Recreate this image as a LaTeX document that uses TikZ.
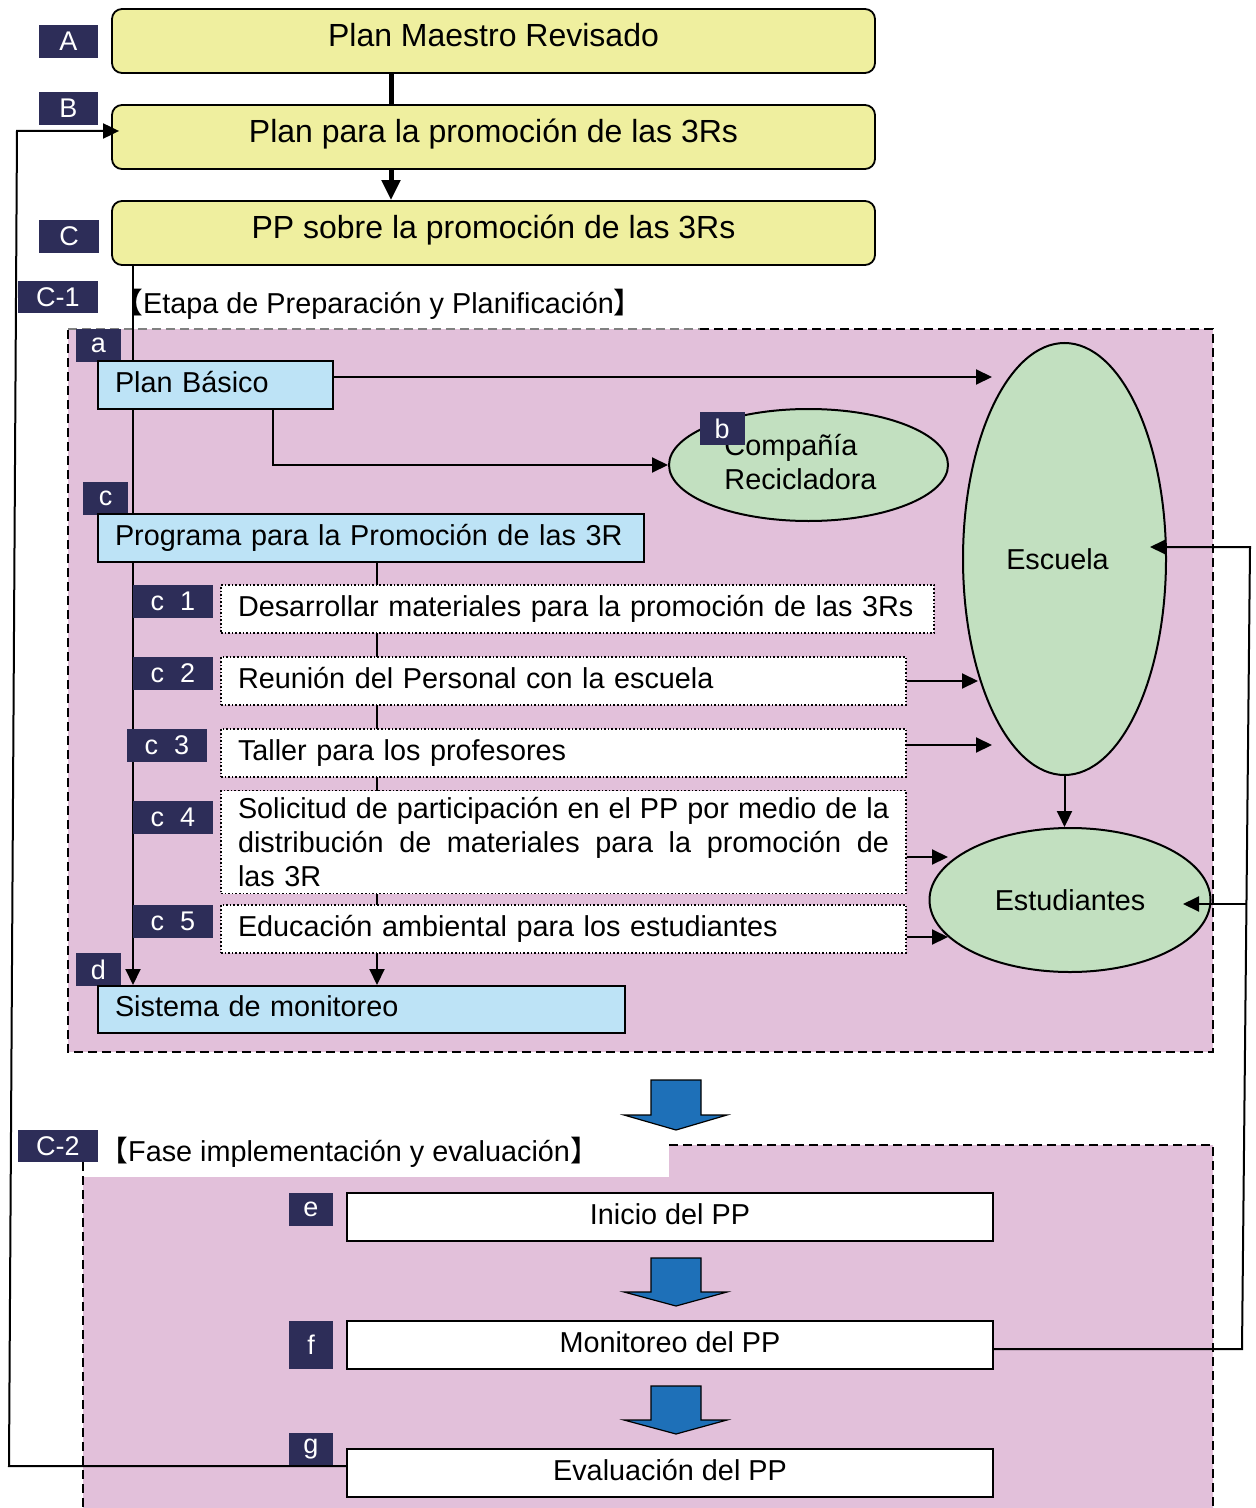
\documentclass[tikz,border=0pt]{standalone}
\usepackage{fontspec}
\setmainfont{Liberation Sans}
\newfontfamily\cjk{Noto Sans CJK SC}
\usetikzlibrary{shapes.geometric,arrows.meta,calc}
\definecolor{ylw}{RGB}{239,239,159}
\definecolor{navy}{RGB}{45,45,88}
\definecolor{lblue}{RGB}{189,227,246}
\definecolor{pnk}{RGB}{226,192,218}
\definecolor{grn}{RGB}{194,224,192}
\definecolor{barr}{RGB}{30,112,184}
\newcommand\myBig{\fontsize{16}{19}\selectfont}
\newcommand\myTxt{\fontsize{14.4}{17}\selectfont}
\newcommand\myLbl{\fontsize{13.5}{16}\selectfont}
\newcommand\jline[1]{\makebox[325.5pt][s]{\spaceskip=.278em plus 1em\relax #1}}
\pgfdeclarelayer{bg}
\pgfdeclarelayer{lines}
\pgfsetlayers{bg,lines,main}
\begin{document}
\begin{tikzpicture}[x=0.5pt,y=-0.5pt,
  lbl/.style={fill=navy,text=white,inner sep=0pt,font=\myLbl,minimum width=22.5pt,minimum height=16.5pt},
  wlbl/.style={lbl,minimum width=40pt},
  ybox/.style={draw,line width=0.9pt,fill=ylw,rounded corners=5pt,minimum width=381.5pt,minimum height=32pt,inner sep=0pt,font=\myBig,text height=12pt,text depth=6.5pt},
  bbox/.style={draw,line width=1pt,fill=lblue,minimum height=24pt,inner xsep=8.5pt,inner ysep=0pt,align=left,font=\myTxt,text height=11pt,text depth=4pt},
  dboxbase/.style={draw,densely dotted,line width=0.8pt,fill=white,inner xsep=8.5pt,inner ysep=0pt,align=left,font=\myTxt,minimum height=24pt},
  dbox/.style={dboxbase,text height=11pt,text depth=4pt},
  wbox/.style={draw,line width=1pt,fill=white,minimum width=323pt,minimum height=24pt,inner sep=0pt,font=\myTxt,text height=11pt,text depth=4pt},
  ell/.style={ellipse,draw,line width=1pt,fill=grn,inner sep=0pt,font=\myTxt},
  ttl/.style={anchor=west,inner sep=0pt,font=\myTxt},
  arr/.style={line width=1pt,-{Triangle[length=8pt,width=7.5pt]}},
  dsh/.style={dash pattern=on 4.5pt off 2.5pt,line width=0.8pt},
  blk/.style={fill=barr,draw=black,line width=0.6pt,line join=miter}]
\useasboundingbox (0,0) rectangle (1256,1508);

% backgrounds
\begin{pgfonlayer}{bg}
  \fill[pnk] (68,329) rectangle (1213,1052);
  \draw[dsh] (700,329) -- (1213,329) -- (1213,1052) -- (68,1052) -- (68,329);
  \draw[dsh,gray] (68,329) -- (700,329);
  \fill[pnk] (83,1177) -- (669,1177) -- (669,1145) -- (1213,1145) -- (1213,1508) -- (83,1508) -- cycle;
  \draw[dsh] (669,1145) -- (1213,1145) -- (1213,1508);
  \draw[dsh] (83,1162) -- (83,1508);
\end{pgfonlayer}

% top boxes
\node[ybox] (A) at (493.5,41) {Plan Maestro Revisado};
\node[ybox] (B) at (493.5,137) {Plan para la promoción de las 3Rs};
\node[ybox] (C) at (493.5,233) {PP sobre la promoción de las 3Rs};

% labels
\node[lbl,minimum width=29.5pt] (LA) at (68.5,41.5) {A};
\node[lbl,minimum width=29.5pt] (LB) at (68.5,108.5) {B};
\node[lbl,minimum width=30pt] (LC) at (69,236.5) {C};
\node[wlbl,minimum height=16pt] (LC1) at (58,297) {C-1};
\node[lbl] (La) at (98.5,345.5) {a};
\node[lbl] (Lc) at (105.5,498) {c};
\node[lbl] (Ld) at (98.5,969.5) {d};
\node[wlbl,minimum height=16pt] (LC2) at (58,1146) {C-2};

% titles
\node[ttl] (T1) at (114,304) {{\cjk 【}Etapa de Preparación y Planificación{\cjk 】}};
\node[ttl] (T2) at (99,1152) {{\cjk 【}Fase implementación y evaluación{\cjk 】}};

% light blue boxes
\node[bbox,text width=100.5pt] (PB) at (215.5,385) {\mbox{Plan Básico}};
\node[bbox,text width=256pt] (PR) at (371,538) {\mbox{Programa para la Promoción de las 3R}};
\node[bbox,text width=246.5pt,minimum height=23.5pt] (SM) at (361.5,1009.5) {\mbox{Sistema de monitoreo}};

% dotted boxes
\node[dbox,text width=339.5pt] (C1) at (577.5,609) {\mbox{Desarrollar materiales para la promoción de las 3Rs}};
\node[dbox,text width=325.5pt] (C2) at (563.5,681) {\mbox{Reunión del Personal con la escuela}};
\node[dbox,text width=325.5pt] (C3) at (563.5,753) {\mbox{Taller para los profesores}};
\node[dboxbase,text width=325.5pt,minimum height=51.5pt] (C4) at (563.5,842)
  {\jline{Solicitud de participación en el PP por medio de la}\\
   \jline{distribución de materiales para la promoción de}\\
   las 3R};
\node[dbox,text width=325.5pt] (C5) at (563.5,929) {\mbox{Educación ambiental para los estudiantes}};

% c labels
\node[wlbl] (Lc1) at (173,601.5) {c\hspace{8pt}1};
\node[wlbl] (Lc2) at (173,673.5) {c\hspace{8pt}2};
\node[wlbl] (Lc3) at (167,745.5) {c\hspace{8pt}3};
\node[wlbl] (Lc4) at (173,817.5) {c\hspace{8pt}4};
\node[wlbl] (Lc5) at (173,921.5) {c\hspace{8pt}5};

% ellipses
\node[ell,minimum width=139.5pt,minimum height=56pt,align=left,text depth=3pt] (CO) at (808.5,465) {Compañía\\Recicladora\hspace*{8pt}};
\node[lbl] (Lb) at (722,428.5) {b};
\node[ell,minimum width=101.5pt,minimum height=216pt] (ES) at (1064.5,559) {Escuela\hspace*{7pt}};
\node[ell,minimum width=140.5pt,minimum height=72pt] (ST) at (1070,900) {Estudiantes};

% implementation boxes
\node[wbox] (E) at (670,1217) {Inicio del PP};
\node[wbox] (F) at (670,1345) {Monitoreo del PP};
\node[wbox] (G) at (670,1473) {Evaluación del PP};
\node[lbl,minimum width=22pt] (Le) at (311,1209) {e};
\node[lbl,minimum width=22pt,minimum height=24pt] (Lf) at (311,1345) {f};
\node[lbl,minimum width=22pt] (Lg) at (311,1449) {g};

% coordinates
\coordinate (x391) at (391,0);
\coordinate (x133) at (133,0);
\coordinate (x377) at (377,0);
\coordinate (x273) at (273,0);
\coordinate (tEs1) at (992,377);
\coordinate (tEs2) at (978,681);
\coordinate (tEs3) at (992,745);
\coordinate (tSt1) at (948,857);
\coordinate (tSt2) at (948,937);
\coordinate (fbL1) at (9,1466);
\coordinate (fbL2) at (17,131);
\coordinate (fbR1) at (1242,1349);
\coordinate (fbR2) at (1250,547);
\coordinate (fbR3) at (1246.5,904);
\coordinate (tEsR) at (1150,547);
\coordinate (tStR) at (1183,904);

% internal connectors
\begin{pgfonlayer}{lines}
  \draw[line width=2.5pt] (A.south -| x391) -- (B.north -| x391);
  \draw[line width=2.5pt,-{Triangle[length=10pt,width=9pt]}] (B.south -| x391) -- (C.north -| x391);
  \draw[arr] (C.south -| x133) -- (SM.north -| x133);
  \draw[arr] (PR.south -| x377) -- (SM.north -| x377);
  \draw[arr] ($(PB.east)+(0,-8)$) -- (tEs1);
  \draw[arr] (PB.south -| x273) |- (CO.west);
  \draw[arr] (C2.east) -- (tEs2);
  \draw[arr] ($(C3.east)+(0,-8)$) -- (tEs3);
  \draw[arr] ($(C4.east)+(0,15)$) -- (tSt1);
  \draw[arr] ($(C5.east)+(0,8)$) -- (tSt2);
  \draw[arr] (ES.south) -- (ES.south |- ST.north);
\end{pgfonlayer}

% feedback loops
\draw[arr] ($(G.west)+(0,-7)$) -- (fbL1) -- (fbL2) -- ($(B.west)+(8,-6)$);
\draw[arr] ($(F.east)+(0,4)$) -- (fbR1) -- (fbR2) -- (tEsR);
\draw[arr] (fbR3) -- (tStR);

% block arrows
\draw[blk] (651,1080) -- (701,1080) -- (701,1115) -- (727,1115) -- (676,1130) -- (624,1115) -- (651,1115) -- cycle;
\draw[blk] (651,1258) -- (701,1258) -- (701,1292) -- (727,1292) -- (676,1306) -- (624,1292) -- (651,1292) -- cycle;
\draw[blk] (651,1386) -- (701,1386) -- (701,1420) -- (727,1420) -- (676,1434) -- (624,1420) -- (651,1420) -- cycle;
\end{tikzpicture}
\end{document}
